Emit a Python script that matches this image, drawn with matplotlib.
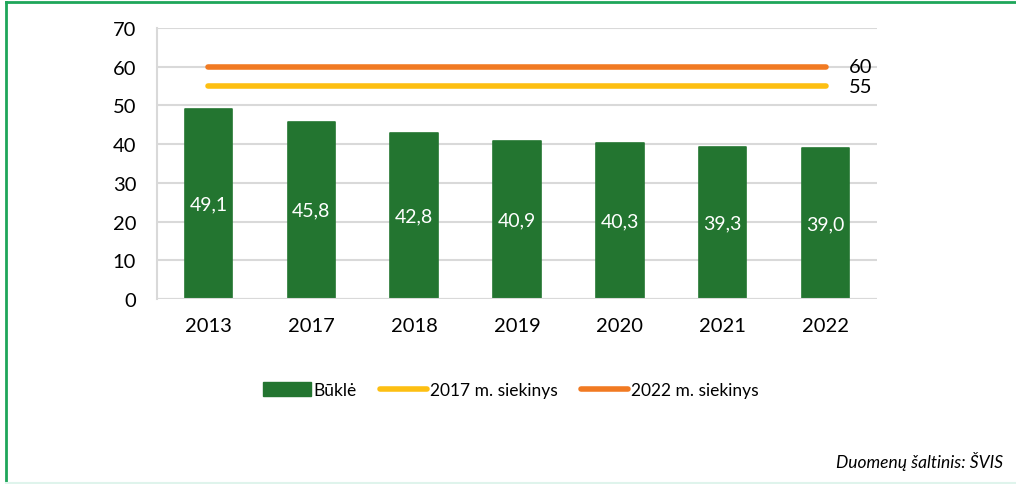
import matplotlib
matplotlib.use("Agg")
import matplotlib.pyplot as plt
from matplotlib.lines import Line2D
from matplotlib.patches import Patch

years = ["2013", "2017", "2018", "2019", "2020", "2021", "2022"]
bukle = [49.1, 45.8, 42.8, 40.9, 40.3, 39.3, 39.0]
target_2017 = 55
target_2022 = 60
series_names = ["Būklė", "2017 m. siekinys", "2022 m. siekinys"]
source_text = "Duomenų šaltinis: ŠVIS"

plt.rcParams['font.family'] = ['Lato', 'DejaVu Sans']

GREEN = "#237530"
YELLOW = "#fdbf12"
ORANGE = "#f17a22"
GRID = "#d9d9d9"

fig = plt.figure(figsize=(10.16, 4.85), dpi=100)
ax = fig.add_axes([157/1016, 1-300/485, 720/1016, 271/485])

x = list(range(len(years)))
bars = ax.bar(x, bukle, width=0.46, color=GREEN, edgecolor=GREEN, linewidth=1.2,
              joinstyle='round', zorder=2)
for xi, v in zip(x, bukle):
    ax.text(xi, v/2, f"{v:.1f}".replace(".", ","), ha='center', va='center',
            color='white', fontsize=14, zorder=4)

ax.plot([x[0], x[-1]], [target_2017]*2, color=YELLOW, lw=4, solid_capstyle='round', zorder=3)
ax.plot([x[0], x[-1]], [target_2022]*2, color=ORANGE, lw=4, solid_capstyle='round', zorder=3)
ax.annotate(str(target_2022), (x[-1], target_2022), xytext=(17, 0), textcoords='offset points',
            va='center', ha='left', fontsize=14.5)
ax.annotate(str(target_2017), (x[-1], target_2017), xytext=(17, 0), textcoords='offset points',
            va='center', ha='left', fontsize=14.5)

ax.set_xlim(-0.5, len(years)-0.5)
ax.set_ylim(0, 70)
ax.set_yticks(range(0, 71, 10))
ax.set_xticks(x)
ax.set_xticklabels(years)
ax.yaxis.grid(True, color=GRID, lw=1.5, zorder=0)
ax.set_axisbelow(True)
ax.axhline(0, color=GRID, lw=1.5, zorder=3)
for s in ['top', 'right', 'bottom']:
    ax.spines[s].set_visible(False)
ax.spines['left'].set_color(GRID)
ax.spines['left'].set_linewidth(1.5)
ax.tick_params(axis='both', length=0, labelsize=14.5)
ax.tick_params(axis='y', pad=15)
ax.tick_params(axis='x', pad=13)

handles = [Patch(facecolor=GREEN, edgecolor=GREEN, joinstyle='round'),
           Line2D([], [], color=YELLOW, lw=4, solid_capstyle='round'),
           Line2D([], [], color=ORANGE, lw=4, solid_capstyle='round')]
fig.legend(handles, series_names, loc='center', bbox_to_anchor=(511/1016, 1-391/485),
           ncol=3, frameon=False, fontsize=12.5, handlelength=2.75, handleheight=0.85,
           handletextpad=0.17, columnspacing=1.3)

fig.text(1003/1016, 1-462/485, source_text, ha='right', va='center', fontsize=12.5, style='italic')

# frame
fig.add_artist(Line2D([6/1016, 6/1016], [1-3/485, 1-483/485], transform=fig.transFigure,
                      color="#1ea65a", lw=2))
fig.add_artist(Line2D([6/1016, 1], [1-3/485, 1-3/485], transform=fig.transFigure,
                      color="#1ea65a", lw=2))
fig.add_artist(Line2D([6/1016, 1], [1-484/485, 1-484/485], transform=fig.transFigure,
                      color="#dff4ec", lw=1.5))

fig.savefig("out.png", dpi=100)
